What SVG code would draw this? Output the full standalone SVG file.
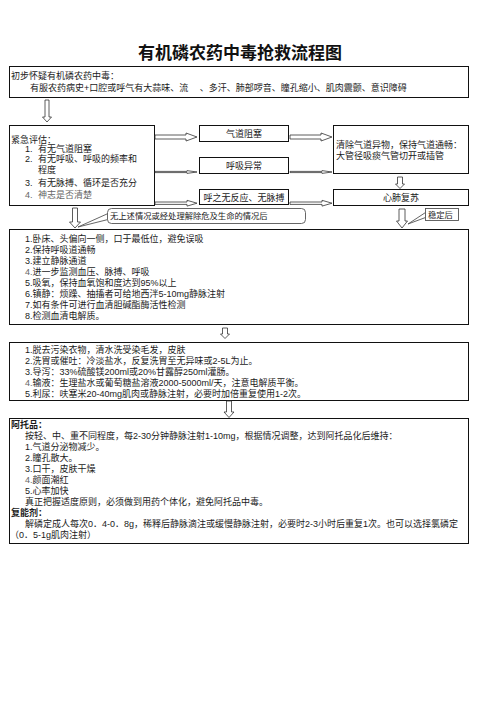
<svg xmlns="http://www.w3.org/2000/svg" width="496" height="702" viewBox="0 0 496 702">
<style>
text{font-family:"Liberation Sans","Noto Sans CJK SC",sans-serif;fill:#1a1a1a;font-size:9px}
.title{font-family:"Noto Sans CJK SC",sans-serif;font-size:17px;font-weight:bold;fill:#111}
.box{fill:#fff;stroke:#111;stroke-width:1}
.call{fill:#fff;stroke:#555;stroke-width:0.9}
.arr{fill:#fff;stroke:#333;stroke-width:0.8}
.c{text-anchor:middle}
.g{fill:#666}
.b{font-weight:bold}
.s{font-size:8.3px}
</style>
<rect width="496" height="702" fill="#fff"/>
<text class="title c" x="240" y="59">有机磷农药中毒抢救流程图</text>

<g id="node-initial">
<rect class="box" x="9.5" y="66.5" width="459" height="31"/>
<text x="11" y="78.5">初步怀疑有机磷农药中毒：</text>
<text x="30" y="90.5">有服农药病史+口腔或呼气有大蒜味、流　 、多汗、肺部啰音、瞳孔缩小、肌肉震颤、意识障碍</text>
</g>

<g id="node-assess">
<rect class="box" x="9.5" y="125.5" width="145" height="80"/>
<text x="11" y="142.5">紧急评估：</text>
<text x="25" y="151.5">1.</text><text x="38" y="151.5">有无气道阻塞</text>
<text x="25" y="162.3">2.</text><text x="38" y="162.3">有无呼吸、呼吸的频率和</text>
<text x="38" y="172.6">程度</text>
<text x="25" y="186">3.</text><text x="38" y="186">有无脉搏、循环是否充分</text>
<text class="g" x="25" y="197.5">4.</text><text class="g" x="38" y="197.5">神志是否清楚</text>
</g>

<g id="node-airway">
<rect class="box" x="199.5" y="125.5" width="89" height="16"/>
<text class="c" x="244" y="136.8">气道阻塞</text>
</g>
<g id="node-breath">
<rect class="box" x="199.5" y="157.5" width="89" height="16"/>
<text class="c" x="244" y="168.8">呼吸异常</text>
</g>
<g id="node-noresp">
<rect class="box" x="199.5" y="189.5" width="89" height="15"/>
<text class="c" x="244" y="200.5">呼之无反应、无脉搏</text>
</g>

<g id="node-clear">
<rect class="box" x="333.5" y="125.5" width="135" height="48"/>
<text x="336" y="148.3">清除气道异物，保持气道通畅：</text>
<text x="336" y="158.6">大管径吸痰气管切开或插管</text>
</g>
<g id="node-cpr">
<rect class="box" x="333.5" y="189.5" width="135" height="16"/>
<text class="c" x="401" y="200.8">心肺复苏</text>
</g>

<g id="node-general">
<rect class="box" x="9.5" y="229.5" width="459" height="95"/>
<text x="25" y="241.5">1.卧床、头偏向一侧，口于最低位，避免误吸</text>
<text x="25" y="252.5">2.保持呼吸道通畅</text>
<text x="25" y="263.5">3.建立静脉通道</text>
<text x="25" y="274.5"><tspan class="g">4.</tspan>进一步监测血压、脉搏、呼吸</text>
<text x="25" y="285.5">5.吸氧，保持血氧饱和度达到95%以上</text>
<text x="25" y="296.5">6.镇静：烦躁、抽搐者可给地西泮5-10mg静脉注射</text>
<text x="25" y="307.8">7.如有条件可进行血清胆碱酯酶活性检测</text>
<text x="25" y="319">8.检测血清电解质。</text>
</g>

<g id="node-decon">
<rect class="box" x="9.5" y="342.5" width="459" height="58"/>
<text x="25" y="352.5">1.脱去污染衣物，清水洗受染毛发，皮肤</text>
<text x="25" y="363.6">2.洗胃或催吐：冷淡盐水，反复洗胃至无异味或2-5L为止。</text>
<text x="25" y="374.7">3.导泻：33%硫酸镁200ml或20%甘露醇250ml灌肠。</text>
<text x="25" y="385.8"><tspan class="g">4.</tspan>输液：生理盐水或葡萄糖盐溶液2000-5000ml/天，注意电解质平衡。</text>
<text x="25" y="396.9">5.利尿：呋塞米20-40mg肌肉或静脉注射，必要时加倍重复使用1-2次。</text>
</g>

<g id="node-drugs">
<rect class="box" x="9.5" y="418.5" width="459" height="125"/>
<text class="b" x="11" y="427.5">阿托品：</text>
<text x="25" y="438.5">按轻、中、重不同程度，每2-30分钟静脉注射1-10mg，根据情况调整，达到阿托品化后维持：</text>
<text x="25" y="449.5">1.气道分泌物减少。</text>
<text x="25" y="460.5">2.瞳孔散大。</text>
<text x="25" y="471.5">3.口干，皮肤干燥</text>
<text x="25" y="482.5"><tspan class="g">4.</tspan>颜面潮红</text>
<text x="25" y="493.5">5.心率加快</text>
<text x="25" y="504.5">真正把握适度原则，必须做到用药个体化，避免阿托品中毒。</text>
<text class="b" x="11" y="515.5">复能剂：</text>
<text x="25" y="526.5">解磷定成人每次0．4-0．8g，稀释后静脉滴注或缓慢静脉注射，必要时2-3小时后重复1次。也可以选择氯磷定</text>
<text x="10" y="537.5">（0．5-1g肌肉注射）</text>
</g>

<g id="connectors">
<polygon class="arr" points="45,100 49,100 49,117 51.5,117 47,122 42.5,117 45,117"/>
<polygon class="arr" points="155,135 186,135 186,133 197,137 186,141 186,139 155,139"/>
<polygon class="arr" points="155,171.4 187,171.4 187,170.6 197,172 187,173.4 187,172.6 155,172.6"/>
<polygon class="arr" points="155,202 187,202 187,200.3 197,203.2 187,206.1 187,204.4 155,204.4"/>
<polygon class="arr" points="290,135 321,135 321,133 332,137 321,141 321,139 290,139"/>
<polygon class="arr" points="290,171.4 322,171.4 322,170.6 332,172 322,173.4 322,172.6 290,172.6"/>
<polygon class="arr" points="290,202 322,202 322,200.3 332,203.2 322,206.1 322,204.4 290,204.4"/>
<polygon class="arr" points="397.5,177 402.5,177 402.5,184 404.5,184 400,188.5 395.5,184 397.5,184"/>
<polygon class="arr" points="72.5,208 77.5,208 77.5,222 80.5,222 75,228 69.5,222 72.5,222"/>
<polygon class="arr" points="399,209 405,209 405,221 407.5,221 402,228 396.5,221 399,221"/>
<polygon class="arr" points="222.5,328 227.5,328 227.5,334 229.5,334 225,338.5 220.5,334 222.5,334"/>
<polygon class="arr" points="226.5,401 231.5,401 231.5,412 234,412 229,417.5 224,412 226.5,412"/>
</g>

<g id="note-after">
<path class="call" d="M108,213.5 L78,227 L108,219.5"/>
<rect class="call" x="107.5" y="208.5" width="198" height="15" rx="4"/>
<text class="s" x="110" y="219">无上述情况或经处理解除危及生命的情况后</text>
</g>
<g id="note-stable">
<path class="call" d="M425.5,212.5 L408,224 L425.5,217.5"/>
<rect class="call" x="425.5" y="208.5" width="33" height="12"/>
<text class="s" x="428" y="217.5">稳定后</text>
</g>
</svg>
